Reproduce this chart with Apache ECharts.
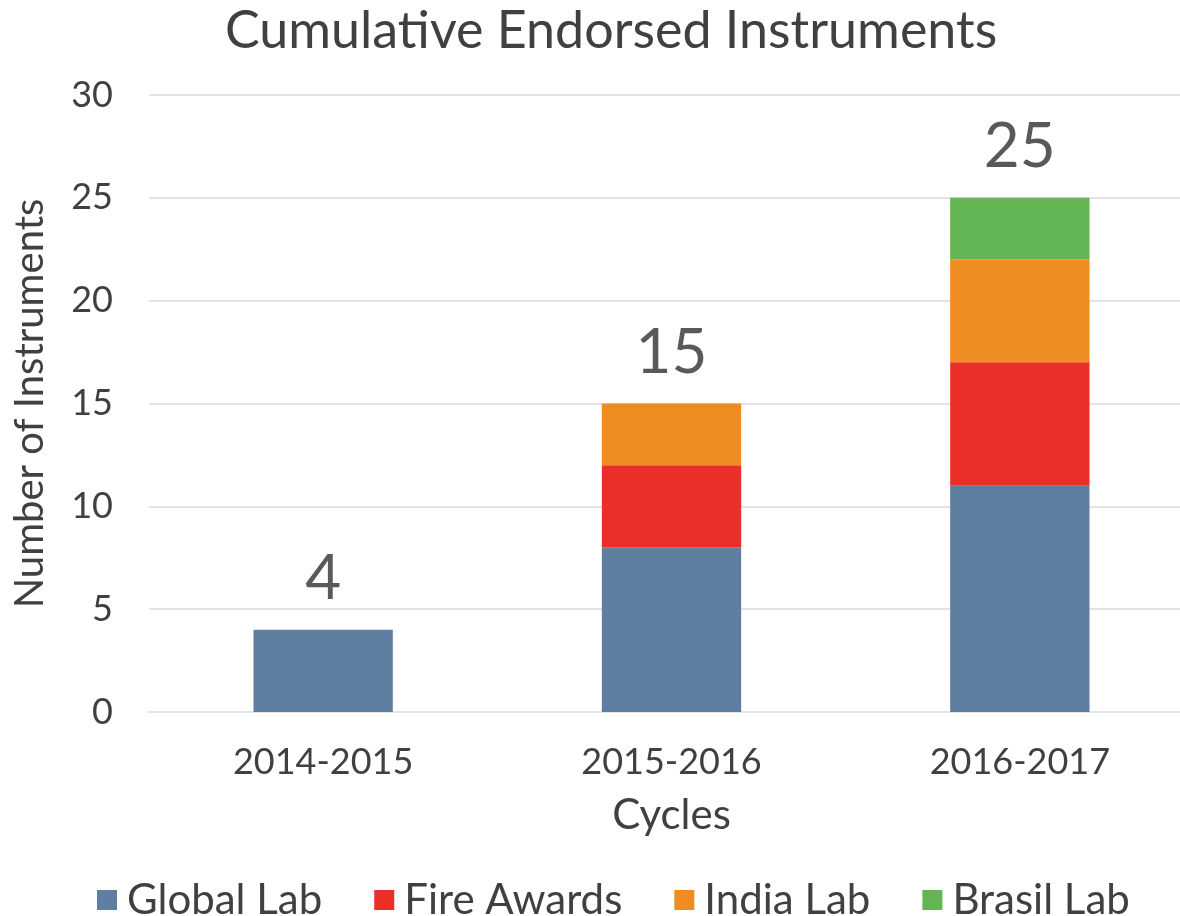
<!DOCTYPE html>
<html>
<head>
<meta charset="utf-8">
<script src="https://cdn.jsdelivr.net/npm/echarts@6/dist/echarts.min.js"></script>
<style>
  html, body { margin: 0; padding: 0; background: #fff; }
  #chart { width: 1180px; height: 916px; }
</style>
</head>
<body>
<div id="chart"></div>
<script>
// data
const cycles = ["2014-2015", "2015-2016", "2016-2017"];
const globalLab = [4, 8, 11];
const fireAwards = [null, 4, 6];
const indiaLab = [null, 3, 5];
const brasilLab = [null, null, 3];
const totals = [4, 15, 25];

const font = "Lato";
const textColor = "#404040";

const chart = echarts.init(document.getElementById("chart"));

const stackBar = (name, data, color) => ({
    name: name,
    type: "bar",
    stack: "all",
    data: data,
    barWidth: "40%",
    itemStyle: { color: color },
});

const option = {
    animation: false,
    title: {
        text: "Cumulative Endorsed Instruments",
        left: 220,
        top: 0,
        textStyle: { fontFamily: font, fontSize: 52, fontWeight: "normal", color: textColor },
    },
    legend: {
        data: ["Global Lab", "Fire Awards", "India Lab", "Brasil Lab"],
        top: 874,
        left: 92,
        icon: "rect",
        itemWidth: 20,
        itemHeight: 20,
        itemGap: 52,
        textStyle: { fontFamily: font, fontSize: 42, color: textColor, padding: [0, 0, 0, 5] },
    },
    grid: { left: 149, width: 1045, top: 95, bottom: 204, containLabel: false, outerBoundsMode: "none" },
    xAxis: {
        type: "category",
        data: cycles,
        name: "Cycles",
        nameLocation: "middle",
        nameGap: 82,
        nameTextStyle: { fontFamily: font, fontSize: 42, color: textColor },
        axisLine: { show: true, lineStyle: { color: "#e3e3e3", width: 2 } },
        axisTick: { show: false },
        axisLabel: { fontFamily: font, fontSize: 36, color: textColor, margin: 32 },
    },
    yAxis: {
        type: "value",
        min: 0,
        max: 30,
        interval: 5,
        name: "Number of Instruments",
        nameLocation: "middle",
        nameGap: 99,
        nameTextStyle: { fontFamily: font, fontSize: 40, color: textColor },
        axisLine: { show: false },
        axisTick: { show: false },
        axisLabel: { fontFamily: font, fontSize: 36, color: textColor, margin: 36 },
        splitLine: { lineStyle: { color: "#e3e3e3", width: 2 } },
    },
    series: [
        stackBar("Global Lab", globalLab, "#5f7fa2"),
        stackBar("Fire Awards", fireAwards, "#e92f27"),
        stackBar("India Lab", indiaLab, "#ee8b21"),
        stackBar("Brasil Lab", brasilLab, "#62b552"),
        {
            name: "Total",
            type: "bar",
            data: totals,
            barWidth: "40%",
            barGap: "-100%",
            itemStyle: { color: "transparent" },
            label: {
                show: true,
                position: "top",
                distance: 20,
                fontFamily: font,
                fontSize: 62,
                color: "#595959",
            },
            z: 0,
        },
    ],
};

chart.setOption(option);
</script>
</body>
</html>
